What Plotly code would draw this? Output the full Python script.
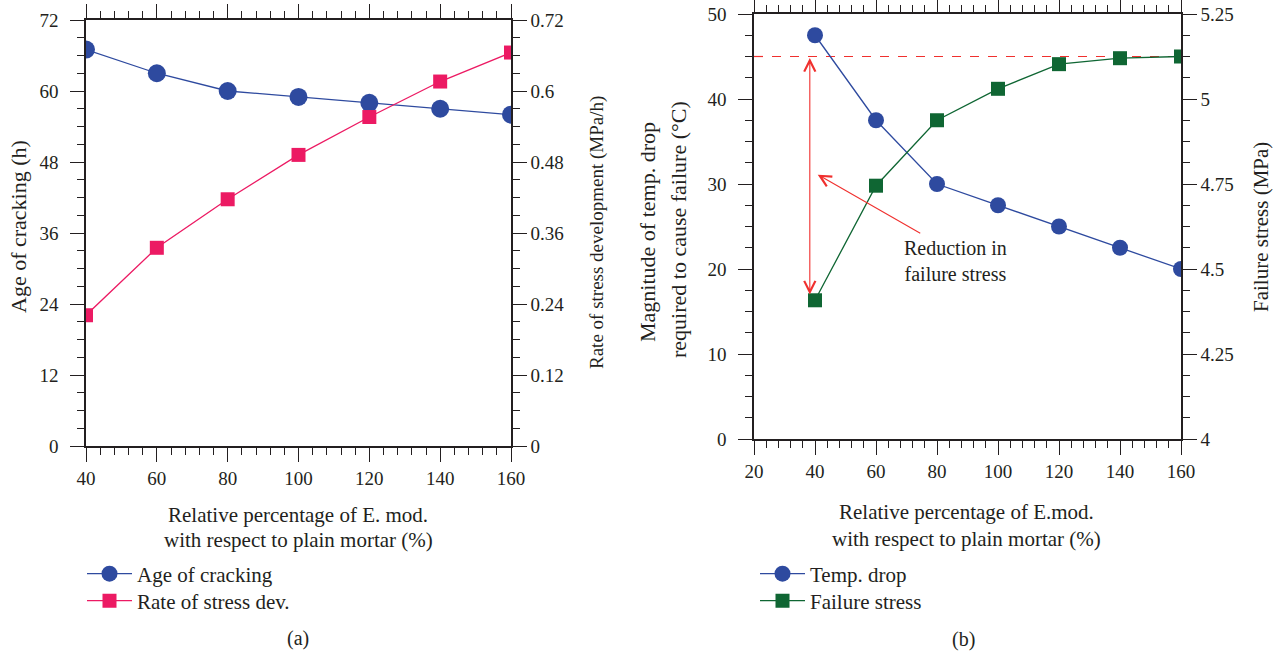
import plotly.graph_objects as go

# ---------------- data ----------------
e_mod_a = [40, 60, 80, 100, 120, 140, 160]
age_cracking = [67, 63, 60, 59, 58, 57, 56]
rate_stress = [0.221, 0.335, 0.417, 0.492, 0.556, 0.616, 0.665]

e_mod_b = [40, 60, 80, 100, 120, 140, 160]
temp_drop = [47.5, 37.5, 30, 27.5, 25, 22.5, 20]
failure_stress = [4.408, 4.745, 4.9375, 5.03, 5.1025, 5.12, 5.125]

ref_level_x = [20, 160]
ref_level_y = [45, 45]

# ---------------- style ----------------
FONT = "Liberation Serif, serif"
INK = "#231F20"
BLUE = "#2E4A9F"
PINK = "#EC1A63"
GREEN = "#0F6633"
RED = "#F0302E"
TF = 19

W, H = 1277, 653


def px(x):
    return x / W


def py(y):
    return 1 - y / H


fig = go.Figure()

# chart (a)
fig.add_trace(go.Scatter(x=e_mod_a, y=age_cracking, mode="lines+markers", name="Age of cracking",
                         line=dict(color=BLUE, width=1.3),
                         marker=dict(symbol="circle", size=18, color=BLUE),
                         xaxis="x", yaxis="y", legend="legend"))
fig.add_trace(go.Scatter(x=e_mod_a, y=rate_stress, mode="lines+markers", name="Rate of stress dev.",
                         line=dict(color=PINK, width=1.3),
                         marker=dict(symbol="square", size=14, color=PINK),
                         xaxis="x", yaxis="y2", legend="legend2"))

# chart (b)
fig.add_trace(go.Scatter(x=ref_level_x, y=ref_level_y, mode="lines", showlegend=False,
                         line=dict(color=RED, width=1.2, dash="dash"),
                         xaxis="x2", yaxis="y3", hoverinfo="skip"))
fig.add_trace(go.Scatter(x=e_mod_b, y=temp_drop, mode="lines+markers", name="Temp. drop",
                         line=dict(color=BLUE, width=1.3),
                         marker=dict(symbol="circle", size=16, color=BLUE),
                         xaxis="x2", yaxis="y3", legend="legend3"))
fig.add_trace(go.Scatter(x=e_mod_b, y=failure_stress, mode="lines+markers", name="Failure stress",
                         line=dict(color=GREEN, width=1.3),
                         marker=dict(symbol="square", size=14, color=GREEN),
                         xaxis="x2", yaxis="y4", legend="legend4"))

tickfont = dict(family=FONT, size=TF, color=INK)
minor_common = dict(ticks="outside", ticklen=7, tickcolor=INK, tickwidth=1.2)


def xax(domain, rng, anchor):
    return dict(domain=domain, range=rng, anchor=anchor, dtick=20, tick0=0,
                ticks="outside", ticklen=14, tickwidth=1.2, tickcolor=INK,
                showline=True, linecolor=INK, linewidth=1.5, mirror="ticks",
                showgrid=False, zeroline=False, tickfont=tickfont, automargin=False,
                minor=dict(dtick=4, tick0=0, **minor_common))


def yax(domain, rng, dtick, mdtick, anchor, side="left", overlaying=None, standoff=None):
    d = dict(domain=domain, range=rng, anchor=anchor, dtick=dtick, tick0=rng[0], side=side,
             ticks="outside", ticklen=14, tickwidth=1.2, tickcolor=INK,
             showline=True, linecolor=INK, linewidth=1.5, automargin=False,
             showgrid=False, zeroline=False, tickfont=tickfont,
             minor=dict(dtick=mdtick, tick0=rng[0], **minor_common))
    if overlaying:
        d["overlaying"] = overlaying
    if standoff is not None:
        d["ticklabelstandoff"] = standoff
    return d


xa_dom = [px(86), px(511)]
ya_dom = [py(446), py(20)]
xb_dom = [px(754), px(1181)]
yb_dom = [py(439), py(14)]

legfont = dict(family=FONT, size=21, color=INK)


def leg(xtext, ycenter):
    return dict(x=px(xtext - 55), y=py(ycenter), xanchor="left", yanchor="middle",
                font=legfont, bgcolor="rgba(0,0,0,0)", itemwidth=45)


fig.update_layout(
    width=W, height=H, margin=dict(l=0, r=0, t=0, b=0, autoexpand=False),
    paper_bgcolor="white", plot_bgcolor="white",
    font=dict(family=FONT, size=TF, color=INK),
    xaxis=xax(xa_dom, [40, 160], "y"),
    yaxis=yax(ya_dom, [0, 72], 12, 3, "x", standoff=8),
    yaxis2=yax(ya_dom, [0, 0.72], 0.12, 0.03, "x", side="right", overlaying="y"),
    xaxis2=xax(xb_dom, [20, 160], "y3"),
    yaxis3=yax(yb_dom, [0, 50], 10, 2.5, "x2", standoff=8),
    yaxis4=yax(yb_dom, [4, 5.25], 0.25, 0.0625, "x2", side="right", overlaying="y3"),
    legend=leg(137, 574),
    legend2=leg(137, 601),
    legend3=leg(810, 574),
    legend4=leg(810, 601),
    showlegend=True,
)
fig.layout.yaxis4.tickformat = "~r"

ann = []


def text(x, y, s, angle=0, size=TF):
    ann.append(dict(x=px(x), y=py(y), xref="paper", yref="paper", text=s, showarrow=False,
                    textangle=angle, font=dict(family=FONT, size=size, color=INK),
                    xanchor="center", yanchor="middle", align="center"))


text(18, 227, "Age of cracking (h)", -90, 22)
text(597, 233, "Rate of stress development (MPa/h)", -90, 19)
text(298, 515, "Relative percentage of E. mod.", 0, 21)
text(298, 540, "with respect to plain mortar (%)", 0, 21)
text(298, 638, "(a)", 0, 20)
text(647, 232, "Magnitude of temp. drop", -90, 22)
text(679, 229, "required to cause failure (°C)", -90, 22)
text(1261, 227, "Failure stress (MPa)", -90, 21)
text(966, 512, "Relative percentage of E.mod.", 0, 21)
text(966, 539, "with respect to plain mortar (%)", 0, 21)
text(963, 639, "(b)", 0, 20)

# red annotations in chart (b)
ann.append(dict(x=38.3, y=17.0, ax=38.3, ay=45.0, xref="x2", yref="y3", axref="x2", ayref="y3",
                text="", showarrow=True, arrowhead=5, startarrowhead=5, arrowside="end+start",
                arrowwidth=1.1, arrowsize=2, startarrowsize=2, arrowcolor=RED))
ann.append(dict(x=40.9, y=31.1, ax=75.0, ay=24.1, xref="x2", yref="y3", axref="x2", ayref="y3",
                text="", showarrow=True, arrowhead=5, arrowwidth=1.1, arrowsize=2, arrowcolor=RED))
ann.append(dict(x=86, y=21.0, xref="x2", yref="y3", text="Reduction in<br>failure stress",
                showarrow=False, font=dict(family=FONT, size=20, color=INK), align="center"))

fig.update_layout(annotations=ann)
fig.write_html("out.html")
